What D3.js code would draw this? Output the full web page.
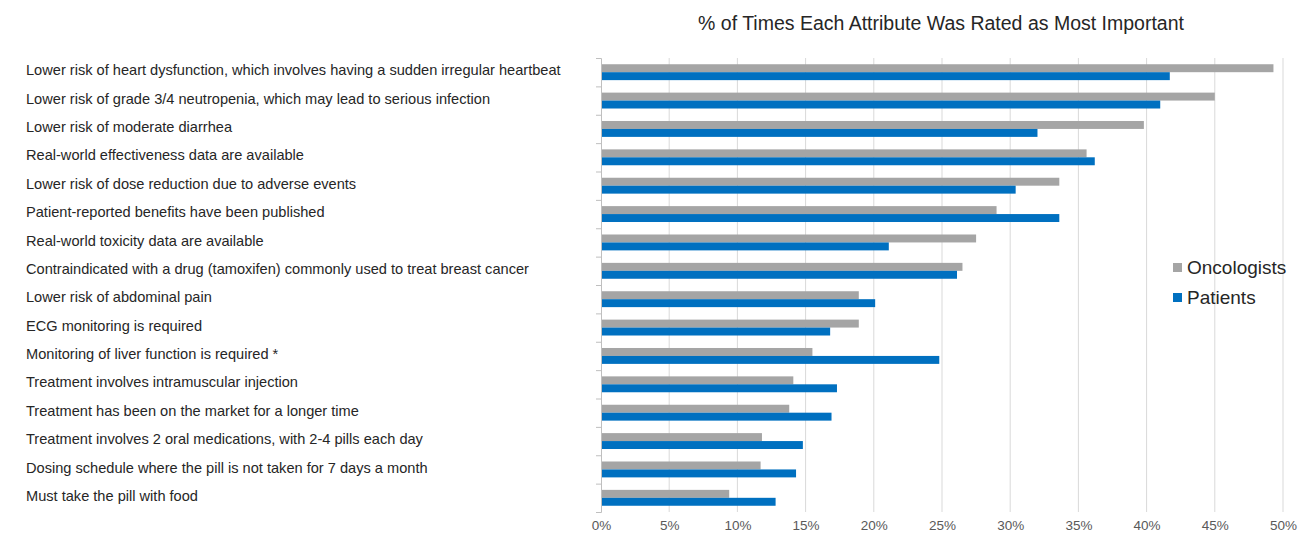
<!DOCTYPE html>
<html><head><meta charset="utf-8">
<script src="https://cdn.jsdelivr.net/npm/d3@7"></script>
<style>body{margin:0;background:#fff;font-family:"Liberation Sans",Arial,sans-serif;}</style>
</head><body><svg id="c" width="1298" height="533"></svg>
<script>
const categories = [
 "Lower risk of heart dysfunction, which involves having a sudden irregular heartbeat",
 "Lower risk of grade 3/4 neutropenia, which may lead to serious infection",
 "Lower risk of moderate diarrhea",
 "Real-world effectiveness data are available",
 "Lower risk of dose reduction due to adverse events",
 "Patient-reported benefits have been published",
 "Real-world toxicity data are available",
 "Contraindicated with a drug (tamoxifen) commonly used to treat breast cancer",
 "Lower risk of abdominal pain",
 "ECG monitoring is required",
 "Monitoring of liver function is required *",
 "Treatment involves intramuscular injection",
 "Treatment has been on the market for a longer time",
 "Treatment involves 2 oral medications, with 2-4 pills each day",
 "Dosing schedule where the pill is not taken for 7 days a month",
 "Must take the pill with food"
];
const oncologists = [49.3,45.0,39.8,35.6,33.6,29.0,27.5,26.5,18.9,18.9,15.5,14.1,13.8,11.8,11.7,9.4];
const patients    = [41.7,41.0,32.0,36.2,30.4,33.6,21.1,26.1,20.1,16.8,24.8,17.3,16.9,14.8,14.3,12.8];
const seriesNames = ["Oncologists","Patients"];
const tickValues = [0,5,10,15,20,25,30,35,40,45,50];
const title = "% of Times Each Attribute Was Rated as Most Important";

const colors = {Oncologists:"#a5a5a5", Patients:"#0070c0"};
const svg = d3.select("#c");
const x = d3.scaleLinear().domain([0,50]).range([601,1283]);
const y = d3.scaleBand().domain(categories).range([58,512]).paddingInner(0.44).paddingOuter(0.22);
const y1 = d3.scaleBand().domain(seriesNames).range([0,y.bandwidth()]);

// gridlines
svg.append("g").selectAll("line").data(tickValues.slice(1)).join("line")
  .attr("x1",d=>x(d)).attr("x2",d=>x(d)).attr("y1",58).attr("y2",512)
  .attr("stroke","#d9d9d9").attr("stroke-width",1);

// bars
const data = categories.map((c,i)=>({c, Oncologists:oncologists[i], Patients:patients[i]}));
const g = svg.append("g").selectAll("g").data(data).join("g")
  .attr("transform",d=>`translate(0,${y(d.c)})`);
g.selectAll("rect").data(d=>seriesNames.map(s=>({s,v:d[s]}))).join("rect")
  .attr("x",x(0)).attr("y",d=>y1(d.s)).attr("width",d=>x(d.v)-x(0)).attr("height",y1.bandwidth())
  .attr("fill",d=>colors[d.s]);

// left axis
const ya = d3.axisLeft(d3.scaleLinear().domain([0,16]).range([58,512])).ticks(16).tickSize(5).tickFormat("");
const yag = svg.append("g").attr("transform",`translate(${x(0)},0)`).call(ya);
yag.selectAll("line,path").attr("stroke","#bfbfbf");

// category labels
svg.append("g").selectAll("text").data(categories).join("text")
  .attr("x",26).attr("y",d=>y(d)+y.bandwidth()/2 - 2).attr("dy","0.35em")
  .attr("font-size",14.6).attr("fill","#262626").text(d=>d);

// bottom axis labels
const xa = d3.axisBottom(x).tickValues(tickValues).tickSize(0).tickPadding(8).tickFormat(d=>d+"%");
const xag = svg.append("g").attr("transform","translate(0,512)").call(xa);
xag.select(".domain").remove();
xag.selectAll("text").attr("font-size",13.5).attr("fill","#595959").attr("font-family","Liberation Sans, Arial, sans-serif");

// title
svg.append("text").attr("x",941).attr("y",30).attr("text-anchor","middle")
  .attr("font-size",19.5).attr("fill","#262626").text(title);

// legend
const lg = svg.append("g").selectAll("g").data(seriesNames).join("g")
  .attr("transform",(d,i)=>`translate(1173,${263+i*30})`);
lg.append("rect").attr("width",9).attr("height",9).attr("fill",d=>colors[d]);
lg.append("text").attr("x",14).attr("y",4.5).attr("dy","0.35em").attr("font-size",19).attr("fill","#262626").text(d=>d);
</script></body></html>
